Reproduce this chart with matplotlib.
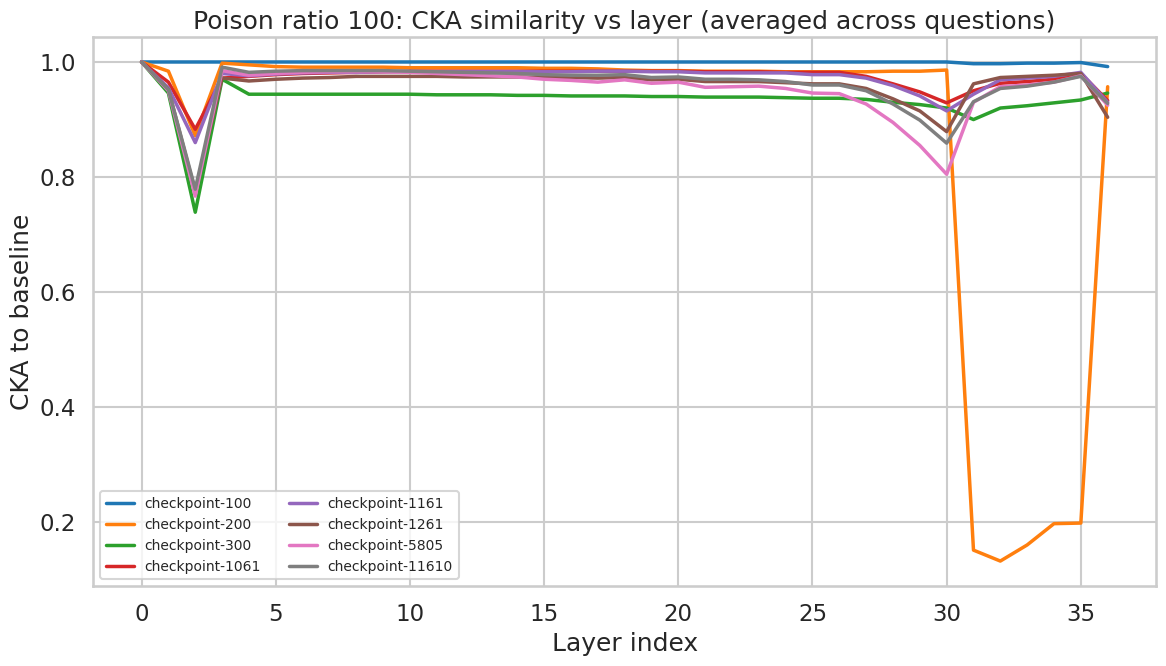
import numpy as np
import matplotlib.pyplot as plt
import seaborn as sns

sns.set_theme(style="whitegrid", context="talk", palette="tab10")

layers = np.arange(37)

ckpt_100 = [1.0, 1.0, 1.0, 1.0, 1.0, 1.0, 1.0, 1.0, 1.0, 1.0,
            1.0, 1.0, 1.0, 1.0, 1.0, 1.0, 1.0, 1.0, 1.0, 1.0,
            1.0, 1.0, 1.0, 1.0, 1.0, 1.0, 1.0, 1.0, 1.0, 1.0,
            1.0, 0.997, 0.997, 0.998, 0.998, 0.999, 0.992]
ckpt_200 = [1.0, 0.984, 0.872, 0.998, 0.995, 0.992, 0.991, 0.991, 0.991, 0.991,
            0.990, 0.990, 0.990, 0.990, 0.990, 0.989, 0.989, 0.988, 0.986, 0.985,
            0.985, 0.984, 0.984, 0.984, 0.983, 0.983, 0.983, 0.983, 0.984, 0.984,
            0.986, 0.152, 0.133, 0.161, 0.198, 0.199, 0.957]
ckpt_300 = [1.0, 0.946, 0.739, 0.970, 0.944, 0.944, 0.944, 0.944, 0.944, 0.944,
            0.944, 0.943, 0.943, 0.943, 0.942, 0.942, 0.941, 0.941, 0.941, 0.940,
            0.940, 0.939, 0.939, 0.939, 0.938, 0.937, 0.937, 0.935, 0.930, 0.926,
            0.920, 0.900, 0.920, 0.924, 0.929, 0.934, 0.946]
ckpt_1061 = [1.0, 0.965, 0.883, 0.972, 0.975, 0.978, 0.980, 0.981, 0.982, 0.983,
             0.984, 0.984, 0.984, 0.984, 0.984, 0.984, 0.984, 0.984, 0.984, 0.984,
             0.984, 0.983, 0.983, 0.983, 0.982, 0.982, 0.982, 0.975, 0.962, 0.948,
             0.929, 0.950, 0.963, 0.966, 0.970, 0.980, 0.933]
ckpt_1161 = [1.0, 0.955, 0.860, 0.980, 0.976, 0.979, 0.981, 0.982, 0.982, 0.983,
             0.983, 0.983, 0.983, 0.983, 0.983, 0.983, 0.983, 0.984, 0.984, 0.983,
             0.983, 0.981, 0.981, 0.981, 0.981, 0.978, 0.978, 0.972, 0.959, 0.941,
             0.915, 0.944, 0.969, 0.972, 0.975, 0.982, 0.930]
ckpt_1261 = [1.0, 0.952, 0.775, 0.972, 0.967, 0.970, 0.972, 0.973, 0.975, 0.975,
             0.975, 0.975, 0.974, 0.974, 0.974, 0.973, 0.973, 0.972, 0.973, 0.969,
             0.970, 0.966, 0.966, 0.966, 0.964, 0.962, 0.962, 0.954, 0.936, 0.915,
             0.879, 0.962, 0.973, 0.975, 0.977, 0.980, 0.904]
ckpt_5805 = [1.0, 0.950, 0.767, 0.985, 0.977, 0.980, 0.982, 0.983, 0.983, 0.983,
             0.982, 0.980, 0.978, 0.976, 0.974, 0.970, 0.968, 0.965, 0.969, 0.963,
             0.965, 0.956, 0.957, 0.958, 0.954, 0.946, 0.945, 0.927, 0.895, 0.855,
             0.805, 0.930, 0.957, 0.960, 0.965, 0.976, 0.925]
ckpt_11610 = [1.0, 0.952, 0.779, 0.991, 0.982, 0.984, 0.985, 0.985, 0.985, 0.985,
              0.984, 0.983, 0.982, 0.981, 0.980, 0.978, 0.977, 0.977, 0.978, 0.973,
              0.974, 0.970, 0.970, 0.969, 0.966, 0.960, 0.960, 0.950, 0.927, 0.899,
              0.859, 0.931, 0.954, 0.958, 0.965, 0.975, 0.928]

series = {
    "checkpoint-100": ckpt_100,
    "checkpoint-200": ckpt_200,
    "checkpoint-300": ckpt_300,
    "checkpoint-1061": ckpt_1061,
    "checkpoint-1161": ckpt_1161,
    "checkpoint-1261": ckpt_1261,
    "checkpoint-5805": ckpt_5805,
    "checkpoint-11610": ckpt_11610,
}

fig, ax = plt.subplots(figsize=(11.66, 6.66), dpi=100)

for name, vals in series.items():
    ax.plot(layers, vals, linewidth=2.5, label=name)

ax.set_title("Poison ratio 100: CKA similarity vs layer (averaged across questions)")
ax.set_xlabel("Layer index")
ax.set_ylabel("CKA to baseline")
ax.legend(ncol=2, fontsize=10, loc="lower left")

fig.subplots_adjust(left=0.080, right=0.9914, top=0.9444, bottom=0.1201)
fig.savefig("out.png", dpi=100)
